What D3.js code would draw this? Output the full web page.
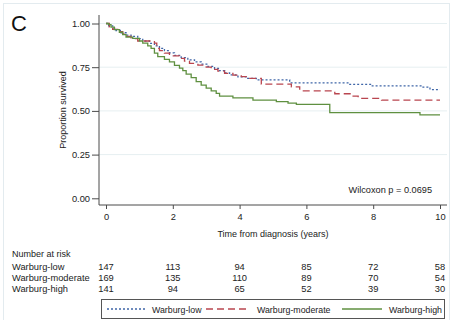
<!DOCTYPE html>
<html><head><meta charset="utf-8">
<script src="https://cdn.jsdelivr.net/npm/d3@7"></script>
<style>
body{margin:0;background:#fff;}
svg{display:block;font-family:"Liberation Sans",Arial,Helvetica,sans-serif;}
</style></head>
<body><svg id="c" width="453" height="320"></svg>
<script>
const groups = ["Warburg-low","Warburg-moderate","Warburg-high"];
const lowTime = [0,0.08,0.2,0.3,0.45,0.6,0.75,0.95,1.1,1.3,1.45,1.6,1.75,1.9,2.05,2.25,2.45,2.65,2.85,3.05,3.25,3.4,3.55,3.7,3.95,4.2,4.5,5.5,7.3,7.95,9.45,9.7,10];
const lowSurv = [1,0.986,0.973,0.96,0.947,0.933,0.926,0.913,0.9,0.886,0.872,0.858,0.845,0.832,0.818,0.805,0.792,0.78,0.768,0.755,0.743,0.73,0.718,0.706,0.695,0.686,0.677,0.66,0.652,0.643,0.636,0.622,0.622];
const modTime = [0,0.1,0.2,0.35,0.5,0.6,0.75,0.95,1.45,1.52,1.6,1.75,1.9,2.2,2.35,2.5,2.75,3.0,3.15,3.35,3.55,3.8,4.05,4.25,4.65,5.55,5.8,6.85,7.35,7.55,8.25,10];
const modSurv = [1,0.98,0.966,0.953,0.94,0.926,0.913,0.9,0.888,0.858,0.845,0.83,0.815,0.8,0.785,0.772,0.762,0.75,0.737,0.727,0.715,0.705,0.696,0.686,0.653,0.638,0.615,0.598,0.585,0.572,0.562,0.562];
const highTime = [0,0.08,0.15,0.25,0.4,0.5,0.6,0.8,1.0,1.1,1.25,1.35,1.45,1.55,1.75,1.9,2.05,2.2,2.3,2.4,2.55,2.7,2.85,3.0,3.15,3.3,3.4,3.8,4.4,5.1,5.45,5.7,6.7,9.4,10];
const highSurv = [1,0.993,0.979,0.965,0.95,0.936,0.922,0.915,0.9,0.888,0.872,0.858,0.83,0.81,0.795,0.78,0.76,0.745,0.73,0.71,0.69,0.667,0.648,0.63,0.615,0.6,0.585,0.575,0.562,0.553,0.545,0.537,0.49,0.477,0.477];
const xTicks = [0,2,4,6,8,10];
const yTicks = [0,0.25,0.5,0.75,1];
const riskLow = [147,113,94,85,72,58];
const riskMod = [169,135,110,89,70,54];
const riskHigh = [141,94,65,52,39,30];

const colors = ["#3f66a8","#b9454f","#5f9040"];
const dashes = ["2,2","7,4",null];

const svg = d3.select("#c");
const x = d3.scaleLinear().domain([0,10]).range([106,440]);
const y = d3.scaleLinear().domain([0,1]).range([198.3,23.5]);
const font = "9px";

// outer frame
svg.append("rect").attr("x",3.5).attr("y",3.5).attr("width",446).attr("height",330)
  .attr("fill","none").attr("stroke","#e3ebef").attr("stroke-width",1);

svg.append("text").attr("x",11).attr("y",31).attr("font-size","22px").attr("fill","#111").text("C");

// gridlines
svg.append("g").selectAll("line").data(yTicks.filter(d=>d>0)).join("line")
  .attr("x1",99).attr("x2",447).attr("y1",d=>y(d)).attr("y2",d=>y(d))
  .attr("stroke","#e6eff1").attr("stroke-width",1);

// axes
const yAxis = d3.axisLeft(y).tickValues(yTicks).tickFormat(d3.format(".2f")).tickSize(7).tickPadding(2);
const gy = svg.append("g").attr("transform","translate(99,0)").call(yAxis);
gy.select(".domain").attr("d","M0,15V205");
const xAxis = d3.axisBottom(x).tickValues(xTicks).tickSize(4).tickPadding(4);
const gx = svg.append("g").attr("transform","translate(0,205)").call(xAxis);
gx.select(".domain").attr("d","M99,0H447");
[gx,gy].forEach(g=>{
  g.selectAll(".domain,.tick line").attr("stroke","#4a4a4a").attr("stroke-width",1);
  g.selectAll("text").attr("font-size","9.3px").attr("fill","#222").attr("font-family","Liberation Sans,Arial,sans-serif");
});

svg.append("text").attr("transform","translate(66,110) rotate(-90)").attr("text-anchor","middle")
  .attr("font-size",font).attr("fill","#222").text("Proportion survived");
svg.append("text").attr("x",273).attr("y",237).attr("text-anchor","middle")
  .attr("font-size",font).attr("fill","#222").text("Time from diagnosis (years)");

// curves
const series = [[lowTime,lowSurv],[modTime,modSurv],[highTime,highSurv]];
const line = d3.line().x(d=>x(d[0])).y(d=>y(d[1])).curve(d3.curveStepAfter);
series.forEach((s,i)=>{
  const pts = s[0].map((t,j)=>[t,s[1][j]]);
  svg.append("path").datum(pts).attr("d",line).attr("fill","none")
    .attr("stroke",colors[i]).attr("stroke-width",1.3)
    .attr("stroke-dasharray",dashes[i]);
});

svg.append("text").attr("x",432).attr("y",192.5).attr("text-anchor","end")
  .attr("font-size","9.2px").attr("fill","#222").text("Wilcoxon p = 0.0695");

// number at risk
svg.append("text").attr("x",12).attr("y",257).attr("font-size",font).attr("fill","#222").text("Number at risk");
const risks = [riskLow,riskMod,riskHigh];
const rowY = [269.5,280.5,291.5];
groups.forEach((g,i)=>{
  svg.append("text").attr("x",12).attr("y",rowY[i]).attr("font-size","9.3px").attr("fill","#222").text(g);
  svg.append("g").selectAll("text").data(risks[i]).join("text")
    .attr("x",(d,j)=>x(xTicks[j])).attr("y",rowY[i]).attr("text-anchor","middle")
    .attr("font-size","9.3px").attr("fill","#222").text(d=>d);
});

// legend
svg.append("rect").attr("x",101.5).attr("y",299.5).attr("width",343).attr("height",19)
  .attr("fill","#fff").attr("stroke","#555").attr("stroke-width",1);
const legX = [[107,145,152],[206,249,257],[342,382,389]];
groups.forEach((g,i)=>{
  svg.append("line").attr("x1",legX[i][0]).attr("x2",legX[i][1]).attr("y1",309).attr("y2",309)
    .attr("stroke",colors[i]).attr("stroke-width",1.3).attr("stroke-dasharray",dashes[i]);
  svg.append("text").attr("x",legX[i][2]).attr("y",312.5).attr("font-size","8.8px").attr("fill","#222").text(g);
});
</script></body></html>
